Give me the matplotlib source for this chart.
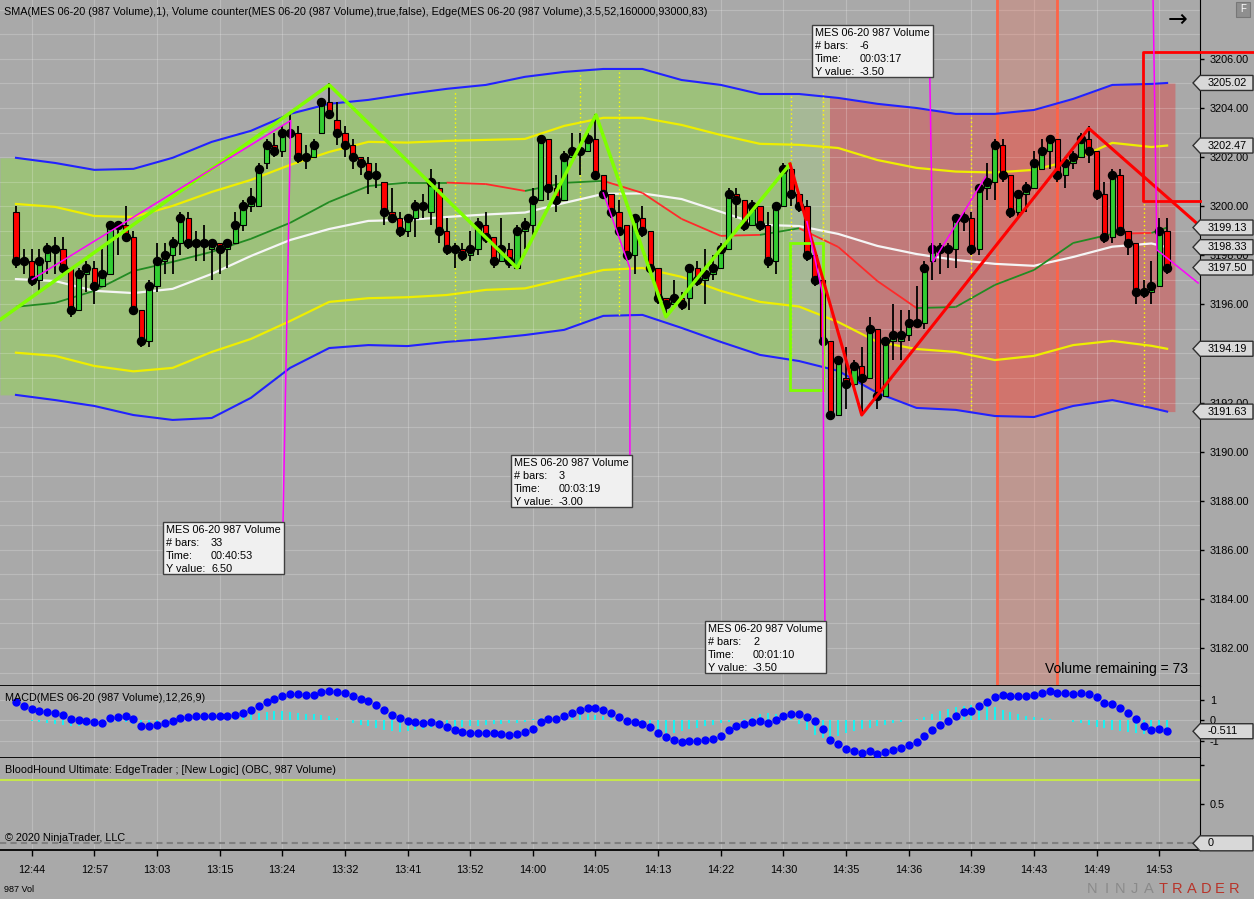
import numpy as np
import matplotlib
matplotlib.use('Agg')
import matplotlib.pyplot as plt
from matplotlib.patches import Rectangle, Polygon
from matplotlib.collections import LineCollection

# ---- price bars (987 volume bars, index 0..147) ----
opens = [3199.75, 3197.75, 3197.75, 3197.0, 3197.75, 3198.25, 3198.25, 3197.5, 3195.75, 3197.25,
         3197.5, 3196.75, 3197.25, 3199.25, 3199.25, 3198.75, 3195.75, 3194.5, 3196.75, 3197.75,
         3198.0, 3198.5, 3199.5, 3198.5, 3198.5, 3198.25, 3198.5, 3198.25, 3198.5, 3199.25,
         3200.0, 3200.0, 3201.75, 3202.5, 3202.25, 3203.0, 3203.0, 3202.0, 3202.0, 3203.0,
         3204.25, 3203.5, 3203.0, 3202.5, 3202.0, 3201.75, 3201.25, 3201.0, 3199.75, 3199.5,
         3199.0, 3199.5, 3200.0, 3199.75, 3200.75, 3199.0, 3198.25, 3198.25, 3198.0, 3198.25,
         3199.25, 3198.75, 3197.75, 3198.25, 3197.5, 3199.0, 3199.25, 3200.25, 3202.75, 3200.75,
         3200.25, 3202.0, 3202.25, 3202.25, 3202.75, 3201.25, 3200.5, 3199.75, 3199.25, 3198.0,
         3199.5, 3199.0, 3197.5, 3196.25, 3196.0, 3196.25, 3196.25, 3197.5, 3197.0, 3197.25,
         3197.5, 3198.25, 3200.5, 3200.25, 3199.25, 3200.0, 3199.25, 3197.75, 3200.0, 3201.5,
         3200.5, 3200.0, 3198.0, 3197.0, 3194.5, 3191.5, 3193.0, 3192.75, 3193.5, 3193.0,
         3195.0, 3192.25, 3194.5, 3194.5, 3194.75, 3195.25, 3195.25, 3197.75, 3198.25, 3198.25,
         3198.25, 3199.5, 3199.5, 3198.25, 3200.75, 3201.0, 3202.5, 3201.25, 3199.75, 3200.5,
         3200.75, 3201.5, 3202.25, 3202.75, 3201.25, 3201.75, 3202.0, 3202.75, 3202.25, 3200.5,
         3198.75, 3201.25, 3199.0, 3198.5, 3196.5, 3196.5, 3196.75, 3199.0]
highs = [3200.0, 3198.25, 3198.25, 3198.25, 3198.5, 3198.75, 3198.75, 3197.5, 3197.5, 3197.75,
         3197.75, 3198.25, 3199.25, 3199.25, 3200.0, 3199.0, 3195.75, 3197.0, 3198.5, 3198.5,
         3198.75, 3199.75, 3199.75, 3199.0, 3199.25, 3198.5, 3198.5, 3198.5, 3199.75, 3200.25,
         3200.75, 3201.75, 3202.75, 3203.0, 3203.25, 3203.75, 3203.25, 3202.5, 3202.75, 3204.25,
         3205.0, 3204.25, 3203.25, 3202.75, 3202.0, 3202.0, 3201.75, 3201.0, 3200.75, 3199.75,
         3199.5, 3200.25, 3200.5, 3201.5, 3201.0, 3199.5, 3198.5, 3198.5, 3199.0, 3199.5,
         3199.75, 3198.75, 3199.5, 3198.5, 3199.25, 3199.5, 3200.75, 3202.75, 3202.75, 3201.25,
         3202.25, 3203.0, 3203.0, 3203.0, 3203.75, 3201.25, 3200.5, 3200.25, 3199.25, 3199.5,
         3200.0, 3199.0, 3197.5, 3196.25, 3197.0, 3196.5, 3197.5, 3197.75, 3198.25, 3198.0,
         3198.5, 3200.75, 3200.75, 3200.25, 3200.25, 3200.0, 3199.75, 3200.0, 3201.75, 3201.75,
         3200.5, 3200.25, 3198.25, 3197.0, 3194.5, 3193.75, 3194.25, 3193.75, 3194.25, 3195.5,
         3195.0, 3194.5, 3196.0, 3195.75, 3195.75, 3196.75, 3197.75, 3198.5, 3198.5, 3198.5,
         3199.5, 3199.75, 3199.75, 3200.75, 3201.75, 3202.75, 3202.75, 3201.25, 3200.5, 3201.0,
         3202.25, 3202.75, 3202.75, 3202.75, 3202.0, 3202.25, 3203.0, 3203.25, 3202.25, 3201.0,
         3201.5, 3201.5, 3199.0, 3198.5, 3197.0, 3197.75, 3199.5, 3199.5]
lows = [3197.5, 3197.25, 3196.75, 3196.5, 3197.25, 3197.25, 3197.25, 3195.5, 3195.75, 3196.5,
        3196.0, 3196.75, 3197.25, 3198.0, 3198.75, 3195.75, 3194.25, 3194.25, 3196.5, 3197.25,
        3197.25, 3198.0, 3198.25, 3197.75, 3197.75, 3197.0, 3197.25, 3197.5, 3198.5, 3199.0,
        3199.75, 3200.0, 3201.5, 3202.0, 3202.0, 3202.75, 3201.75, 3201.5, 3202.0, 3203.0,
        3203.75, 3202.5, 3202.0, 3201.5, 3201.25, 3200.5, 3200.75, 3199.25, 3199.5, 3198.75,
        3198.75, 3198.75, 3199.5, 3199.25, 3198.5, 3198.0, 3197.5, 3197.75, 3197.75, 3198.0,
        3198.5, 3197.5, 3197.75, 3197.5, 3197.5, 3198.25, 3198.75, 3200.25, 3200.25, 3199.75,
        3200.25, 3202.0, 3201.25, 3202.25, 3201.25, 3200.5, 3199.5, 3199.0, 3197.75, 3197.25,
        3198.75, 3197.25, 3196.0, 3195.5, 3196.0, 3195.75, 3195.75, 3196.75, 3196.0, 3197.0,
        3197.5, 3198.25, 3199.5, 3199.0, 3199.25, 3199.0, 3197.5, 3197.25, 3200.0, 3200.0,
        3199.75, 3197.75, 3196.75, 3194.5, 3191.5, 3191.5, 3191.75, 3192.5, 3191.5, 3193.0,
        3191.75, 3192.25, 3193.75, 3193.75, 3194.5, 3195.25, 3195.0, 3197.0, 3197.25, 3197.5,
        3197.5, 3199.0, 3198.0, 3198.0, 3200.25, 3200.25, 3201.0, 3199.5, 3199.5, 3199.75,
        3200.75, 3201.5, 3201.5, 3201.0, 3200.75, 3201.5, 3202.0, 3201.75, 3200.25, 3198.5,
        3198.5, 3199.0, 3198.0, 3196.0, 3196.25, 3196.0, 3196.75, 3197.25]
closes = [3197.75, 3197.75, 3197.0, 3197.75, 3198.25, 3198.25, 3197.5, 3195.75, 3197.25, 3197.5,
          3196.75, 3197.25, 3199.25, 3199.25, 3198.75, 3195.75, 3194.5, 3196.75, 3197.75, 3198.0,
          3198.5, 3199.5, 3198.5, 3198.5, 3198.5, 3198.5, 3198.25, 3198.5, 3199.25, 3200.0,
          3200.25, 3201.5, 3202.5, 3202.25, 3203.0, 3203.0, 3202.0, 3202.0, 3202.5, 3204.25,
          3203.75, 3203.0, 3202.5, 3202.0, 3201.75, 3201.25, 3201.25, 3199.75, 3199.5, 3199.0,
          3199.5, 3200.0, 3200.0, 3201.0, 3199.0, 3198.25, 3198.25, 3198.0, 3198.25, 3199.25,
          3198.75, 3197.75, 3198.25, 3197.75, 3199.0, 3199.25, 3200.25, 3202.75, 3200.75, 3200.25,
          3202.0, 3202.25, 3202.25, 3202.75, 3201.25, 3200.5, 3199.75, 3199.0, 3198.0, 3199.5,
          3199.0, 3197.5, 3196.25, 3196.0, 3196.25, 3196.0, 3197.5, 3197.0, 3197.25, 3197.5,
          3198.25, 3200.5, 3200.25, 3199.25, 3200.0, 3199.25, 3197.75, 3200.0, 3201.5, 3200.5,
          3200.0, 3198.0, 3197.0, 3194.5, 3191.5, 3193.75, 3192.75, 3193.5, 3193.0, 3195.0,
          3192.25, 3194.5, 3194.75, 3194.75, 3195.25, 3195.25, 3197.5, 3198.25, 3198.25, 3198.25,
          3199.5, 3199.5, 3198.25, 3200.75, 3201.0, 3202.5, 3201.25, 3199.75, 3200.5, 3200.75,
          3201.75, 3202.25, 3202.75, 3201.25, 3201.75, 3202.0, 3202.75, 3202.25, 3200.5, 3198.75,
          3201.25, 3199.0, 3198.5, 3196.5, 3196.5, 3196.75, 3199.0, 3197.5]

# ---- Edge bands, sampled every 5 bars ----
band_x = [0, 5, 10, 15, 20, 25, 30, 35, 40, 45, 50, 55, 60, 65, 70, 75, 80, 85, 90, 95,
          100, 105, 110, 115, 120, 125, 130, 135, 140, 145, 147]
blue_up = [3201.97, 3201.76, 3201.48, 3201.52, 3201.97, 3202.62, 3203.07, 3203.76, 3204.17, 3204.33,
           3204.57, 3204.78, 3204.94, 3205.27, 3205.47, 3205.59, 3205.59, 3205.14, 3204.94, 3204.57,
           3204.57, 3204.41, 3204.17, 3204.00, 3203.76, 3203.76, 3203.92, 3204.37, 3204.94, 3204.98, 3205.02]
blue_lo = [3192.31, 3192.10, 3191.86, 3191.49, 3191.29, 3191.37, 3192.19, 3193.41, 3194.22, 3194.34,
           3194.30, 3194.47, 3194.59, 3194.75, 3194.96, 3195.53, 3195.57, 3195.04, 3194.47, 3193.94,
           3193.69, 3193.29, 3192.39, 3191.78, 3191.70, 3191.45, 3191.41, 3191.86, 3192.10, 3191.78, 3191.63]
yel_up = [3200.09, 3199.97, 3199.60, 3199.56, 3200.01, 3200.58, 3201.07, 3201.68, 3202.21, 3202.62,
          3202.59, 3202.66, 3202.70, 3202.74, 3203.27, 3203.60, 3203.60, 3203.31, 3202.90, 3202.54,
          3202.50, 3202.37, 3201.88, 3201.56, 3201.41, 3201.37, 3201.48, 3201.88, 3202.58, 3202.41, 3202.47]
yel_lo = [3194.03, 3193.90, 3193.49, 3193.27, 3193.41, 3194.06, 3194.59, 3195.32, 3196.10, 3196.25,
          3196.29, 3196.38, 3196.59, 3196.65, 3197.03, 3197.40, 3197.48, 3197.12, 3196.55, 3196.10,
          3195.91, 3195.28, 3194.47, 3194.18, 3194.06, 3193.73, 3193.90, 3194.34, 3194.51, 3194.31, 3194.19]
mid = [3195.90, 3196.06, 3196.55, 3197.36, 3197.73, 3198.14, 3198.67, 3199.32, 3200.17, 3200.82,
       3200.96, 3200.96, 3200.90, 3200.62, 3200.95, 3201.03, 3200.54, 3199.48, 3198.79, 3198.83,
       3199.10, 3198.34, 3196.95, 3195.85, 3195.89, 3196.79, 3197.40, 3198.50, 3198.87, 3198.91, 3199.13]
mid_col = 'gggggggggggrrggrrrrgrrrgggggrg'
white = [3197.03, 3196.95, 3196.55, 3196.46, 3196.63, 3197.24, 3197.97, 3198.62, 3199.07, 3199.40,
         3199.44, 3199.56, 3199.66, 3199.74, 3200.13, 3200.50, 3200.52, 3200.29, 3199.77, 3199.24,
         3199.19, 3198.87, 3198.38, 3198.05, 3197.81, 3197.65, 3197.57, 3197.93, 3198.35, 3198.48, 3198.33]

# yellow dotted markers
vl_x = [56, 72, 77, 99, 103, 122, 144]
vl_hi = [3204.74, 3205.47, 3205.55, 3204.53, 3204.65, 3203.64, 3200.17]
vl_lo = [3194.55, 3195.28, 3195.57, 3193.73, 3193.53, 3191.70, 3191.90]

# swing lines
zz_g_x = [-2.04, 40, 64, 74.07, 83, 98.85]
zz_g_y = [3195.37, 3204.94, 3197.48, 3203.72, 3195.49, 3201.72]
zz_r_x = [98.85, 108, 137, 150.8]
zz_r_y = [3201.72, 3191.49, 3203.17, 3199.30]

# measure lines (magenta)
mg_lines = [
    ([2.08, 35.08, 34.1], [3197.02, 3203.49, 3187.13]),
    ([75.0, 78.4, 78.4], [3200.54, 3197.48, 3189.86]),
    ([101.0, 103.0, 103.3], [3199.37, 3196.42, 3183.10]),
    ([116.7, 117.1, 123.8], [3205.23, 3197.73, 3201.19]),
    ([145.2, 145.7, 150.96], [3208.6, 3198.22, 3196.87]),
]
boxes = [(163, 522, '33', '00:40:53', '6.50'),
         (511, 455, '3', '00:03:19', '-3.00'),
         (705, 621, '2', '00:01:10', '-3.50'),
         (812, 25, '-6', '00:03:17', '-3.50')]

price_flags = [3205.02, 3202.47, 3199.13, 3198.33, 3197.50, 3194.19, 3191.63]

# ---- MACD ----
macd = [0.865, 0.69, 0.548, 0.468, 0.405, 0.341, 0.278, 0.087, 0.024, -0.04,
        -0.071, -0.103, 0.135, 0.183, 0.23, 0.087, -0.246, -0.246, -0.198, -0.103,
        -0.008, 0.135, 0.183, 0.23, 0.23, 0.23, 0.23, 0.23, 0.278, 0.373,
        0.5, 0.69, 0.865, 1.024, 1.167, 1.246, 1.262, 1.23, 1.214, 1.357,
        1.405, 1.373, 1.325, 1.183, 1.04, 0.913, 0.738, 0.5, 0.278, 0.135,
        -0.008, -0.071, -0.103, -0.071, -0.151, -0.325, -0.452, -0.563, -0.611, -0.579,
        -0.579, -0.611, -0.643, -0.69, -0.627, -0.532, -0.389, -0.056, 0.056, 0.087,
        0.23, 0.373, 0.516, 0.595, 0.595, 0.516, 0.373, 0.183, -0.008, -0.087,
        -0.151, -0.325, -0.579, -0.77, -0.929, -1.008, -0.976, -0.976, -0.929, -0.881,
        -0.722, -0.452, -0.262, -0.151, -0.056, -0.024, -0.103, 0.04, 0.23, 0.325,
        0.325, 0.167, -0.024, -0.405, -0.929, -1.103, -1.357, -1.452, -1.532, -1.452,
        -1.579, -1.484, -1.405, -1.325, -1.167, -1.024, -0.738, -0.452, -0.214, -0.008,
        0.23, 0.421, 0.452, 0.706, 0.897, 1.135, 1.23, 1.183, 1.183, 1.183,
        1.23, 1.325, 1.421, 1.325, 1.294, 1.278, 1.325, 1.262, 1.135, 0.849,
        0.802, 0.579, 0.373, 0.056, -0.246, -0.452, -0.389, -0.511]
macd_hist = [0.02, 0.0, -0.02, -0.05,
             -0.1, -0.15, -0.2, -0.25, -0.28, -0.25, -0.22, -0.2, -0.12,
             -0.08, -0.05, -0.15, -0.2, -0.18, -0.12, -0.08, -0.02,
             0.02, 0.05, 0.08, 0.1, 0.12, 0.15, 0.18, 0.2, 0.25, 0.3, 0.35, 0.4, 0.45, 0.45, 0.42, 0.38,
             0.32, 0.3, 0.28, 0.22, 0.12, 0.02,
             -0.1, -0.2, -0.28, -0.38, -0.45, -0.5, -0.55, -0.52, -0.45, -0.4, -0.38, -0.35, -0.32, -0.3,
             -0.3, -0.28, -0.25, -0.22, -0.18, -0.15, -0.12, -0.1, -0.05, 0.05, 0.12,
             0.2, 0.22, 0.25, 0.28, 0.3, 0.3, 0.28, 0.22, 0.15, 0.08, 0.0,
             -0.08, -0.2, -0.35, -0.5, -0.6, -0.58, -0.52, -0.42, -0.35, -0.28, -0.2, -0.12, -0.05, 0.0, 0.05,
             0.18, 0.3, 0.35, 0.32, 0.25, 0.12,
             -0.15, -0.45, -0.7, -0.85, -0.8, -0.72, -0.6, -0.5, -0.4, -0.35, -0.28, -0.2, -0.12, -0.05, 0.0, 0.05,
             0.15, 0.3, 0.45, 0.55, 0.65, 0.7, 0.72, 0.72, 0.7, 0.62, 0.5, 0.4, 0.3, 0.2, 0.15, 0.1, 0.05, 0.02, 0.0,
             -0.05, -0.1, -0.2, -0.3, -0.38, -0.45, -0.5, -0.55, -0.6, -0.62, -0.55, -0.45, -0.4]
bh_level = 0.81

tick_bars = list(range(2, 147, 8))
time_labels = ['12:44', '12:57', '13:03', '13:15', '13:24', '13:32', '13:41', '13:52', '14:00', '14:05',
               '14:13', '14:22', '14:30', '14:35', '14:36', '14:39', '14:43', '14:49', '14:53']

plt.rcParams['font.family'] = ['Liberation Sans', 'DejaVu Sans']

W, H = 1254, 899
BG = '#A9A9A9'
FS = 7.8


def fx(px):
    return px / W


def fy(py):
    return 1 - py / H


fig = plt.figure(figsize=(W / 100, H / 100), dpi=100, facecolor=BG)
ax = fig.add_axes([0, fy(686), 1200 / W, 686 / H])
axm = fig.add_axes([0, fy(758), 1200 / W, 72 / H], sharex=ax)
axb = fig.add_axes([0, fy(850), 1200 / W, 92 / H], sharex=ax)

for a in (ax, axm, axb):
    a.set_facecolor(BG)
    a.spines['left'].set_visible(False)
    a.spines['top'].set_visible(False)
    a.spines['right'].set_color('black')
    a.spines['bottom'].set_color('black')
    a.spines['bottom'].set_linewidth(1.3)
    a.yaxis.tick_right()
    a.tick_params(axis='y', direction='out', length=3, width=1, labelsize=FS, pad=4)
    a.tick_params(axis='x', length=0, labelbottom=False)
    for xt in tick_bars:
        a.axvline(xt, color='white', alpha=0.22, lw=0.8, zorder=1.5)

x = np.arange(len(closes))
ax.set_xlim(-2.04, 151.2)

# ---- main price panel ----
ax.set_ylim(3180.45, 3208.40)
yt = np.arange(3182, 3207, 2)
ax.set_yticks(yt, ['%.2f' % v for v in yt])
for v in np.arange(3181, 3209):
    ax.axhline(v, color='white', alpha=0.2, lw=0.8, zorder=1.5)

fill_x = np.r_[-2.04, band_x, 148.0]
fill_hi = np.r_[blue_up[0], blue_up, blue_up[-1]]
fill_lo = np.r_[blue_lo[0], blue_lo, blue_lo[-1]]
for x0, x1, c in [(-2.04, 98.85, '#9DC17B'), (98.85, 102.9, '#A6B896'),
                  (102.9, 103.96, '#B7BD8C'), (103.96, 148.0, '#C17A7A')]:
    poly = ax.fill_between(fill_x, fill_lo, fill_hi, color=c, lw=0, zorder=1)
    poly.set_clip_path(Rectangle((x0, 3170), x1 - x0, 50, transform=ax.transData))

ax.axvspan(125.3, 133.0, color='#FF6347', alpha=0.25, lw=0, zorder=1.8)
for xv in (125.3, 133.0):
    ax.axvline(xv, color='#FF6347', lw=2, zorder=1.9)

ax.plot(band_x, blue_up, color='#2222FF', lw=1.5, zorder=2)
ax.plot(band_x, blue_lo, color='#2222FF', lw=1.5, zorder=2)
ax.plot(band_x, yel_up, color='#EEEE00', lw=1.6, zorder=2)
ax.plot(band_x, yel_lo, color='#EEEE00', lw=1.6, zorder=2)
ax.plot(band_x, white, color='#F5F5F5', lw=1.6, zorder=2)
segs = [[(band_x[k], mid[k]), (band_x[k + 1], mid[k + 1])] for k in range(len(band_x) - 1)]
ax.add_collection(LineCollection(segs, colors=['#228B22' if c == 'g' else '#FF2A2A' for c in mid_col],
                                 linewidths=1.3, zorder=2))

ax.vlines(vl_x, vl_lo, vl_hi, colors='#FFFF00', linestyles=(0, (1, 2)), lw=1, zorder=2.5)

o = np.array(opens)
c = np.array(closes)
body_col = np.where(c > o, '#32CD32', np.where(c < o, '#FF0000', 'black'))
ax.vlines(x, lows, highs, color='black', lw=1.3, zorder=2.9)
ax.bar(x, np.abs(c - o), bottom=np.minimum(o, c), width=0.68, color=body_col,
       edgecolor='black', linewidth=0.8, zorder=3)
ax.plot(x, closes, 'o', color='black', ms=5.8, zorder=4)

ax.plot(zz_g_x, zz_g_y, color='#7FFF00', lw=2.5, zorder=5)
ax.add_patch(Rectangle((98.9, 3192.51), 4.2, 5.99, fill=False, ec='#7FFF00', lw=2, zorder=5))
ax.plot(zz_r_x, zz_r_y, color='#FF0000', lw=2.2, zorder=5)
ax.plot([158.1, 143.9, 143.9, 151.2], [3206.29, 3206.29, 3200.23, 3200.23],
        color='#FF0000', lw=2, zorder=5, clip_on=False)
for mx, my in mg_lines:
    ax.plot(mx, my, color='#FF00FF', lw=1.1, zorder=5)

# ---- MACD panel ----
axm.set_ylim(-1.786, 1.643)
axm.set_yticks([-1, 0, 1], ['-1', '0', '1'])
for v in (-1, 0, 1):
    axm.axhline(v, color='white', alpha=0.2, lw=0.8, zorder=1.5)
axm.vlines(x, 0, macd_hist, color='#00FFFF', lw=1.2, zorder=2)
axm.plot(x, macd, 'o', color='#0000FF', ms=5, zorder=3)

# ---- BloodHound panel ----
axb.set_ylim(-0.085, 1.085)
axb.set_yticks([0, 0.5, 1], ['', '0.5', ''])
axb.axhline(bh_level, color='#C5E64B', lw=1.5, zorder=2)
axb.axhline(0, color='#808080', lw=1.5, ls=(0, (3, 2)), zorder=2)
axb.set_xticks(tick_bars, time_labels)
axb.tick_params(axis='x', length=4, width=1, direction='out', labelbottom=True, labelsize=FS, pad=7)

# ---- value flags on the right scale ----
def flag(a, val, txt):
    yd = a.transData.transform((0, val))[1]
    pts = [(1193, 0), (1200, 7.5), (1253, 7.5), (1253, -7.5), (1200, -7.5)]
    fig.add_artist(Polygon([(fx(px), (yd + dy) / H) for px, dy in pts], closed=True,
                           transform=fig.transFigure, fc='#D8D8D8', ec='#303030', lw=1, zorder=20))
    fig.text(fx(1208), yd / H, txt, va='center', ha='left', fontsize=FS, zorder=21)


for v in price_flags:
    flag(ax, v, '%.2f' % v)
flag(axm, macd[-1], '%.3f' % macd[-1])
flag(axb, 0, '0')

# ---- measure boxes ----
for bx, by, nb, tm, yv in boxes:
    fig.add_artist(Rectangle((fx(bx), fy(by + 52)), 121 / W, 52 / H, transform=fig.transFigure,
                             fc='#F0F0F0', ec='#404040', lw=1, zorder=10))
    rows = [('MES 06-20 987 Volume', ''), ('# bars:', nb), ('Time:', tm), ('Y value:', yv)]
    for k, (lab, val) in enumerate(rows):
        fig.text(fx(bx + 3), fy(by + 8 + 13 * k), lab, fontsize=FS, va='center', zorder=11)
        if val:
            fig.text(fx(bx + 48), fy(by + 8 + 13 * k), val, fontsize=FS, va='center', zorder=11)

# ---- labels ----
fig.text(fx(4), fy(12), 'SMA(MES 06-20 (987 Volume),1), Volume counter(MES 06-20 (987 Volume),true,false), '
         'Edge(MES 06-20 (987 Volume),3.5,52,160000,93000,83)', fontsize=FS, va='center')
fig.text(fx(1188), fy(669), 'Volume remaining = 73', fontsize=10, ha='right', va='center')
fig.text(fx(1178), fy(20), '\u2192', fontsize=17, ha='center', va='center', family='DejaVu Sans')
fig.add_artist(Rectangle((fx(1236), fy(17)), 14 / W, 15 / H, transform=fig.transFigure,
                         fc='#8F8F8F', ec='#777777', lw=0.8))
fig.text(fx(1243), fy(9.5), 'F', fontsize=7, color='white', ha='center', va='center')
fig.text(fx(5), fy(698), 'MACD(MES 06-20 (987 Volume),12,26,9)', fontsize=FS, va='center')
fig.text(fx(5), fy(770), 'BloodHound Ultimate: EdgeTrader ; [New Logic] (OBC, 987 Volume)', fontsize=FS, va='center')
fig.text(fx(5), fy(838), '\u00a9 2020 NinjaTrader, LLC', fontsize=FS, va='center')
fig.text(fx(4), fy(889), '987 Vol', fontsize=6.5, va='center')
for k, ch in enumerate('NINJATRADER'):
    fig.text(fx(1092 + 14.2 * k), fy(889), ch, fontsize=10.5, ha='center', va='center',
             color='#8A8A8A' if k < 5 else '#B8342A')

fig.savefig('out.png', dpi=100, facecolor=BG)
